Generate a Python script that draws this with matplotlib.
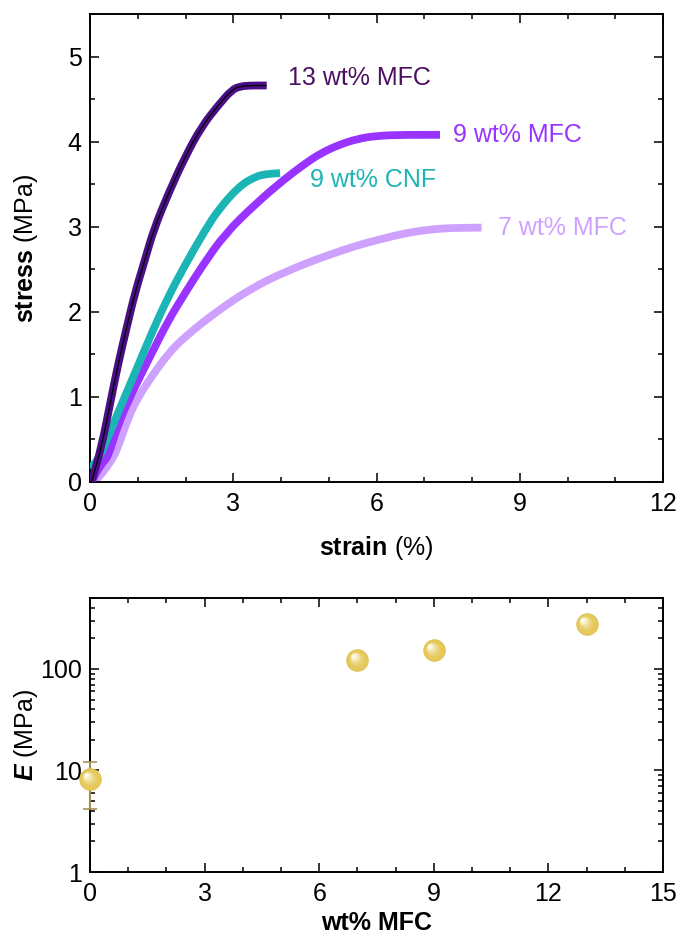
import numpy as np
import matplotlib
matplotlib.use("Agg")
import matplotlib.pyplot as plt
from matplotlib import transforms
from matplotlib.path import Path
from matplotlib.patches import PathPatch
from matplotlib.colors import to_rgb

# ---- tensile curves: strain (%) vs stress (MPa) ----
strain_13mfc = [0.03, 0.24, 0.42, 0.59, 0.77, 0.94, 1.15, 1.33, 1.64, 1.99, 2.34, 2.69, 2.97, 3.15, 3.35, 3.70]
stress_13mfc = [0.00, 0.41, 0.92, 1.39, 1.82, 2.22, 2.61, 2.96, 3.39, 3.82, 4.18, 4.43, 4.61, 4.65, 4.66, 4.66]

strain_9cnf = [0.00, 0.17, 0.38, 0.59, 0.94, 1.29, 1.64, 1.99, 2.41, 2.69, 3.11, 3.46, 3.70, 3.98]
stress_9cnf = [0.16, 0.26, 0.53, 0.82, 1.28, 1.75, 2.18, 2.55, 2.96, 3.20, 3.47, 3.59, 3.62, 3.63]

strain_9mfc = [0.03, 0.24, 0.38, 0.59, 0.94, 1.29, 1.64, 1.99, 2.34, 2.83, 3.49, 4.05, 4.50, 4.82, 5.20, 5.58, 6.00, 6.60, 7.33]
stress_9mfc = [0.00, 0.22, 0.29, 0.69, 1.12, 1.51, 1.90, 2.22, 2.53, 2.92, 3.28, 3.55, 3.74, 3.86, 3.96, 4.03, 4.07, 4.08, 4.08]

strain_7mfc = [0.10, 0.42, 0.59, 0.80, 1.01, 1.29, 1.64, 1.99, 2.69, 3.39, 4.08, 5.03, 6.07, 7.12, 8.20]
stress_7mfc = [0.00, 0.22, 0.41, 0.76, 1.00, 1.24, 1.51, 1.71, 2.02, 2.28, 2.47, 2.68, 2.86, 2.98, 2.99]

curve_labels = ["13 wt% MFC", "9 wt% MFC", "9 wt% CNF", "7 wt% MFC"]

# ---- modulus vs MFC content ----
wt_mfc = [0, 7, 9, 13]
modulus = [8.2, 123, 153, 278]
modulus_err = [4.0, 0, 0, 0]

C13 = "#4a0e86"
C13_TXT = "#4b1160"
C9 = "#9933ff"
CCNF = "#1cb5b5"
C7 = "#cfa1ff"
GOLD = "#e6c95a"
FS = 18

plt.rcParams.update({
    "font.family": ["Liberation Sans", "DejaVu Sans"],
    "mathtext.fontset": "custom",
    "mathtext.rm": "Liberation Sans",
    "mathtext.bf": "Liberation Sans:bold",
    "mathtext.it": "Liberation Sans:italic",
    "mathtext.bfit": "Liberation Sans:italic:bold",
    "axes.linewidth": 1.4,
    "xtick.labelsize": FS,
    "ytick.labelsize": FS,
})

fig = plt.figure(figsize=(6.8, 9.41), dpi=100)
ax1 = fig.add_axes([0.1324, 0.4878, 0.8426, 0.4973])
ax2 = fig.add_axes([0.1324, 0.0733, 0.8426, 0.2912])


def smooth_curve(ax, xs, ys, **kw):
    """Draw a polyline as a chain of quadratic Beziers (points act as control points)."""
    pts = np.column_stack([xs, ys])
    verts = [pts[0], (pts[0] + pts[1]) / 2]
    codes = [Path.MOVETO, Path.LINETO]
    for i in range(1, len(pts) - 1):
        verts += [pts[i], (pts[i] + pts[i + 1]) / 2]
        codes += [Path.CURVE3, Path.CURVE3]
    verts.append(pts[-1])
    codes.append(Path.LINETO)
    patch = PathPatch(Path(verts, codes), facecolor="none", capstyle="butt",
                      joinstyle="round", **kw)
    ax.add_patch(patch)
    return patch


def style_ticks(ax):
    ax.tick_params(which="both", direction="in", top=True, right=True, width=1.1)
    ax.tick_params(which="major", length=6.5)
    ax.tick_params(which="minor", length=3.6)
    ax.tick_params(axis="x", pad=7)
    ax.tick_params(axis="y", pad=6)


# ---- top panel: stress-strain curves ----
lw = 5.6
smooth_curve(ax1, strain_7mfc, stress_7mfc, edgecolor=C7, lw=lw, zorder=2)
smooth_curve(ax1, strain_9mfc, stress_9mfc, edgecolor=C9, lw=lw, zorder=3)
smooth_curve(ax1, strain_9cnf, stress_9cnf, edgecolor=CCNF, lw=lw, zorder=4)
smooth_curve(ax1, strain_13mfc, stress_13mfc, edgecolor=C13, lw=lw, zorder=5)
smooth_curve(ax1, strain_13mfc, stress_13mfc, edgecolor="black", lw=0.9, zorder=6)

ax1.text(4.15, 4.75, curve_labels[0], color=C13_TXT, fontsize=FS, va="center", ha="left")
ax1.text(7.61, 4.08, curve_labels[1], color=C9, fontsize=FS, va="center", ha="left")
ax1.text(4.61, 3.55, curve_labels[2], color=CCNF, fontsize=FS, va="center", ha="left")
ax1.text(8.55, 2.98, curve_labels[3], color=C7, fontsize=FS, va="center", ha="left")

ax1.set_xlim(0, 12)
ax1.set_ylim(0, 5.5)
ax1.set_xticks([0, 3, 6, 9, 12])
ax1.set_xticks(np.arange(0, 12.01, 1), minor=True)
ax1.set_yticks([0, 1, 2, 3, 4, 5])
ax1.set_yticks(np.arange(0, 5.51, 0.5), minor=True)
style_ticks(ax1)
ax1.set_xlabel(r"$\mathbf{strain}$ (%)", fontsize=FS, va="top")
ax1.set_ylabel(r"$\mathbf{stress}$ (MPa)", fontsize=FS)
ax1.xaxis.set_label_coords(0.5, -0.112)
ax1.yaxis.set_label_coords(-0.088, 0.5)

# ---- bottom panel: modulus ----
ax2.set_yscale("log")
ax2.errorbar(wt_mfc, modulus, yerr=modulus_err, fmt="none", ecolor="#a89254",
             elinewidth=1.4, capsize=5, capthick=1.2, zorder=3, clip_on=False)

# shaded spheres: base disc followed by a soft highlight toward the upper left
base_rgb = np.array(to_rgb(GOLD))
ax2.plot(wt_mfc, modulus, ls="none", marker="o", ms=15.5, mfc=GOLD, mec="#dcbd4c",
         mew=0.6, zorder=4, clip_on=False)
n_layers = 10
for i in range(n_layers):
    f = (i + 1) / n_layers
    size = 12.5 * (1 - f) + 3.0 * f
    dx, dy = -3.0 * f, 3.0 * f
    col = base_rgb * (1 - f ** 1.4) + np.array([1.0, 1.0, 0.97]) * f ** 1.4
    tr = transforms.offset_copy(ax2.transData, fig=fig, x=dx, y=dy, units="points")
    ax2.plot(wt_mfc, modulus, ls="none", marker="o", ms=size, mfc=col, mec="none",
             alpha=0.55, transform=tr, zorder=5 + i * 0.01, clip_on=False)

ax2.set_xlim(0, 15)
ax2.set_ylim(1, 500)
ax2.set_xticks([0, 3, 6, 9, 12, 15])
ax2.set_xticks(np.arange(0, 15.01, 1), minor=True)
ax2.set_yticks([1, 10, 100])
ax2.set_yticklabels(["1", "10", "100"])
style_ticks(ax2)
ax2.set_xlabel("wt% MFC", fontsize=FS, fontweight="bold", va="top")
ax2.set_ylabel(r"$\mathbfit{E}$ (MPa)", fontsize=FS)
ax2.xaxis.set_label_coords(0.5, -0.142)
ax2.yaxis.set_label_coords(-0.088, 0.5)

fig.savefig("out.png", dpi=100)
